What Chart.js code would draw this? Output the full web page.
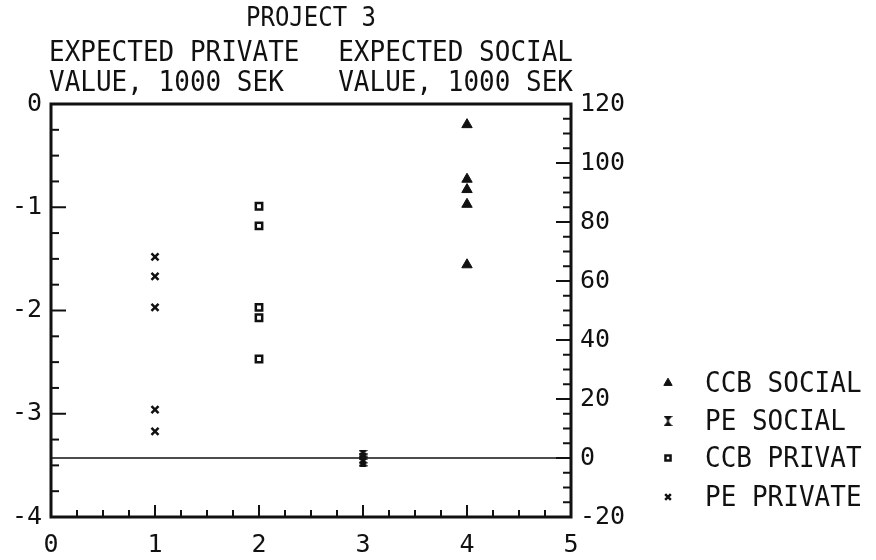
<!DOCTYPE html>
<html>
<head>
<meta charset="utf-8">
<script src="https://cdn.jsdelivr.net/npm/chart.js@4/dist/chart.umd.min.js"></script>
<style>
  html, body { margin: 0; padding: 0; background: #fff; }
  #wrap { width: 876px; height: 560px; }
</style>
</head>
<body>
<div id="wrap"><canvas id="c" width="876" height="560"></canvas></div>
<script>
// Project 3 — expected private (left axis) and social (right axis) value, 1000 SEK

const seriesNames = ['CCB SOCIAL', 'PE SOCIAL', 'CCB PRIVAT', 'PE PRIVATE'];
const seriesX     = [4, 3, 2, 1];

const ccbSocial  = [113, 94.5, 91, 86, 65.5];
const peSocial   = [1, 0, -0.5, -1, -1.5];
const ccbPrivate = [-0.99, -1.18, -1.97, -2.07, -2.47];
const pePrivate  = [-1.48, -1.67, -1.97, -2.96, -3.17];

const xTicks       = [0, 1, 2, 3, 4, 5];
const privateTicks = [-4, -3, -2, -1, 0];
const socialTicks  = [-20, 0, 20, 40, 60, 80, 100, 120];
const socialZero   = 0;

// plotter lettering is monospaced and a bit tall
const FONT = '"DejaVu Sans Mono", "Liberation Mono", monospace';
const INK = '#111';

// hourglass marker used for PE SOCIAL
function hourglass() {
  const cv = document.createElement('canvas');
  cv.width = 9; cv.height = 10;
  const g = cv.getContext('2d');
  g.fillStyle = INK;
  g.beginPath(); g.moveTo(0, 0); g.lineTo(9, 0); g.lineTo(4.5, 5); g.closePath(); g.fill();
  g.beginPath(); g.moveTo(0, 10); g.lineTo(9, 10); g.lineTo(4.5, 5); g.closePath(); g.fill();
  g.fillRect(3.5, 2, 2, 6);
  return cv;
}

const styles = [
  { pointStyle: 'triangle', radius: 6, borderWidth: 1, bg: INK },
  { pointStyle: hourglass(), radius: 5, borderWidth: 0, bg: INK },
  { pointStyle: 'rect', radius: 4.5, borderWidth: 2.5, bg: '#fff' },
  { pointStyle: 'crossRot', radius: 5, borderWidth: 2.5, bg: INK },
];
const values = [ccbSocial, peSocial, ccbPrivate, pePrivate];
const axes   = ['y2', 'y2', 'y', 'y'];

const datasets = seriesNames.map((name, i) => ({
  label: name,
  yAxisID: axes[i],
  data: values[i].map(v => ({ x: seriesX[i], y: v })),
  pointStyle: styles[i].pointStyle,
  pointRadius: styles[i].radius,
  pointBorderWidth: styles[i].borderWidth,
  pointBackgroundColor: styles[i].bg,
  pointBorderColor: INK,
  showLine: false,
}));

datasets.push({
  type: 'line',
  label: 'zero',
  yAxisID: 'y2',
  data: [xTicks[0], xTicks[xTicks.length - 1]].map(x => ({ x, y: socialZero })),
  borderColor: INK,
  borderWidth: 1.5,
  pointRadius: 0,
});

function tallText(ctx, text, x, y) {
  ctx.save();
  ctx.translate(x, y);
  ctx.scale(1, 1.12);
  ctx.fillText(text, 0, 0);
  ctx.restore();
}

const decor = {
  id: 'decor',
  afterDatasetsDraw(chart) {
    const { ctx, chartArea: a, scales } = chart;
    ctx.save();
    ctx.strokeStyle = INK;
    ctx.lineCap = 'butt';

    // inward tick marks
    ctx.lineWidth = 2;
    const tick = (x1, y1, x2, y2) => { ctx.beginPath(); ctx.moveTo(x1, y1); ctx.lineTo(x2, y2); ctx.stroke(); };
    for (let v = -4; v <= 0.001; v += 0.25) {
      const y = scales.y.getPixelForValue(v);
      const len = Math.abs(v - Math.round(v)) < 1e-6 ? 15 : 8;
      tick(a.left, y, a.left + len, y);
    }
    for (let v = -20; v <= 120; v += 5) {
      const y = scales.y2.getPixelForValue(v);
      const len = v % 20 === 0 ? 15 : 8;
      tick(a.right, y, a.right - len, y);
    }
    for (let v = 0; v <= 5.001; v += 0.25) {
      const x = scales.x.getPixelForValue(v);
      const len = Math.abs(v - Math.round(v)) < 1e-6 ? 12 : 7;
      tick(x, a.bottom, x, a.bottom - len);
    }

    // frame
    ctx.lineWidth = 3;
    ctx.strokeRect(a.left, a.top, a.right - a.left, a.bottom - a.top);
    ctx.restore();
  },
  afterDraw(chart) {
    const { ctx, chartArea: a } = chart;
    ctx.save();
    ctx.fillStyle = INK;
    ctx.textBaseline = 'middle';

    ctx.font = '24px ' + FONT;
    ctx.textAlign = 'center';
    tallText(ctx, 'PROJECT 3', (a.left + a.right) / 2, 19);

    ctx.font = '26px ' + FONT;
    ctx.textAlign = 'left';
    tallText(ctx, 'EXPECTED PRIVATE', a.left - 2, 53);
    tallText(ctx, 'VALUE, 1000 SEK', a.left - 2, 83);
    ctx.textAlign = 'right';
    tallText(ctx, 'EXPECTED SOCIAL', a.right + 2, 53);
    tallText(ctx, 'VALUE, 1000 SEK', a.right + 2, 83);

    // legend
    const rows = [383, 421, 458, 497];
    ctx.font = '26px ' + FONT;
    ctx.textAlign = 'left';
    seriesNames.forEach((name, i) => {
      ctx.fillStyle = styles[i].bg;
      ctx.strokeStyle = INK;
      ctx.lineWidth = styles[i].borderWidth;
      Chart.helpers.drawPoint(ctx, {
        pointStyle: styles[i].pointStyle,
        radius: styles[i].radius * 0.8,
        rotation: 0,
        borderWidth: styles[i].borderWidth,
      }, 668, rows[i]);
      ctx.fillStyle = INK;
      tallText(ctx, name, 705, rows[i] + 1);
    });
    ctx.restore();
  },
};

const tickFont = { family: FONT, size: 25 };

new Chart(document.getElementById('c'), {
  type: 'scatter',
  data: { datasets },
  options: {
    responsive: false,
    animation: false,
    layout: { padding: { top: 104, right: 240, left: 0, bottom: 0 } },
    plugins: { legend: { display: false }, tooltip: { enabled: false }, title: { display: false } },
    scales: {
      x: {
        type: 'linear', min: 0, max: 5,
        afterBuildTicks: s => { s.ticks = xTicks.map(v => ({ value: v })); },
        afterFit: s => { s.height = 43; },
        grid: { display: false, drawTicks: false },
        border: { display: false },
        ticks: { font: tickFont, color: INK, padding: 13, maxRotation: 0 },
      },
      y: {
        type: 'linear', position: 'left', min: -4, max: 0,
        afterBuildTicks: s => { s.ticks = privateTicks.map(v => ({ value: v })); },
        afterFit: s => { s.width = 51; },
        grid: { display: false, drawTicks: false },
        border: { display: false },
        ticks: { font: tickFont, color: INK, padding: 9 },
      },
      y2: {
        type: 'linear', position: 'right', min: -20, max: 120,
        afterBuildTicks: s => { s.ticks = socialTicks.map(v => ({ value: v })); },
        afterFit: s => { s.width = 65; },
        grid: { display: false, drawTicks: false },
        border: { display: false },
        ticks: { font: tickFont, color: INK, padding: 9 },
      },
    },
  },
  plugins: [decor],
});
</script>
</body>
</html>
